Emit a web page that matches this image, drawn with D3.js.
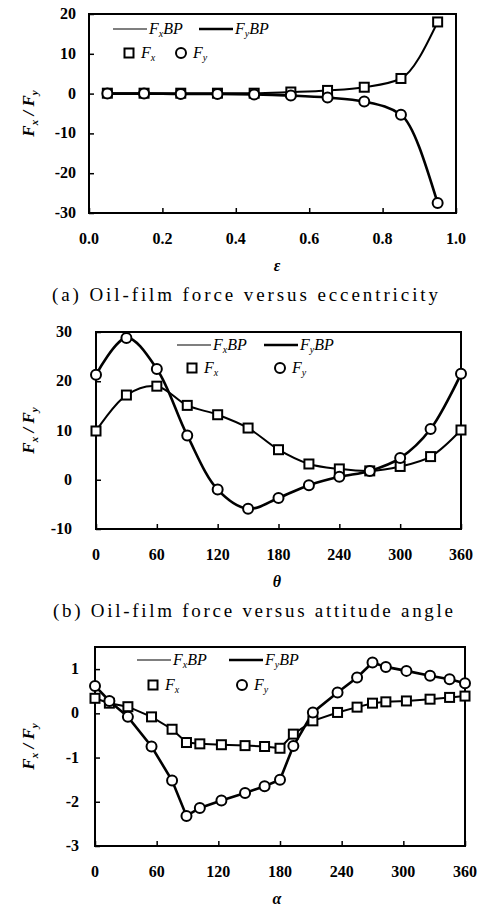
<!DOCTYPE html>
<html>
<head>
<meta charset="utf-8">
<script src="https://cdn.jsdelivr.net/npm/d3@7"></script>
<style>
body { margin: 0; background: #fff; }
svg { display: block; }
</style>
</head>
<body>
<svg id="chart" width="482" height="909" font-family="'Liberation Serif', 'Times New Roman', Times, serif"></svg>
<script>
// (a) eccentricity
var epsVals = [0.05, 0.15, 0.25, 0.35, 0.45, 0.55, 0.65, 0.75, 0.85, 0.95]
var fxEps = [0.1, 0.1, 0.1, 0.1, 0.1, 0.4, 0.8, 1.6, 3.8, 18]
var fyEps = [0, 0, -0.1, -0.1, -0.2, -0.5, -1.0, -2.0, -5.3, -27.5]
var epsTicks = [0.0, 0.2, 0.4, 0.6, 0.8, 1.0]
var epsYTicks = [20, 10, 0, -10, -20, -30]

// (b) attitude angle
var thetaVals = [0, 30, 60, 90, 120, 150, 180, 210, 240, 270, 300, 330, 360]
var fxTheta = [9.9, 17.2, 19.0, 15.1, 13.2, 10.5, 6.1, 3.2, 2.2, 1.8, 2.7, 4.7, 10.1]
var fyTheta = [21.3, 28.8, 22.5, 9.0, -2.0, -5.9, -3.7, -1.1, 0.6, 1.8, 4.4, 10.3, 21.5]
var angleTicks = [0, 60, 120, 180, 240, 300, 360]
var thetaYTicks = [30, 20, 10, 0, -10]

// (c) alpha
var alphaVals = [0, 14, 32, 55, 75, 89, 102, 123, 146, 165, 180, 193, 212, 236, 255, 270, 283, 303, 326, 345, 360]
var fxAlpha = [0.34, 0.23, 0.15, -0.08, -0.36, -0.66, -0.69, -0.71, -0.73, -0.75, -0.79, -0.47, -0.17, 0.02, 0.14, 0.23, 0.26, 0.28, 0.32, 0.36, 0.39]
var fyAlpha = [0.62, 0.28, -0.08, -0.75, -1.52, -2.32, -2.14, -1.97, -1.80, -1.65, -1.50, -0.74, 0.02, 0.47, 0.81, 1.15, 1.05, 0.96, 0.85, 0.77, 0.68]
var alphaYTicks = [1, 0, -1, -2, -3]

var svg = d3.select("#chart")

function panel(cfg) {
    var g = svg.append("g")
    var x = d3.scaleLinear().domain(cfg.xDomain).range([cfg.left, cfg.right])
    var y = d3.scaleLinear().domain(cfg.yDomain).range([cfg.bottom, cfg.top])

    // inward ticks
    g.append("g")
        .attr("transform", "translate(0," + cfg.bottom + ")")
        .call(d3.axisBottom(x).tickValues(cfg.xTicks).tickSize(-5).tickFormat(""))
        .call(function(s) { s.select(".domain").remove() })
    g.append("g")
        .attr("transform", "translate(" + cfg.left + ",0)")
        .call(d3.axisLeft(y).tickValues(cfg.yTicks).tickSize(-5).tickFormat(""))
        .call(function(s) { s.select(".domain").remove() })
    g.selectAll(".tick line").attr("stroke", "#000").attr("stroke-width", 1.5)

    g.append("rect")
        .attr("x", cfg.left).attr("y", cfg.top)
        .attr("width", cfg.right - cfg.left).attr("height", cfg.bottom - cfg.top)
        .attr("fill", "none").attr("stroke", "#000").attr("stroke-width", 2)

    g.selectAll(".xl").data(cfg.xTicks).enter().append("text")
        .attr("x", function(d) { return x(d) })
        .attr("y", cfg.bottom + 31)
        .attr("text-anchor", "middle")
        .attr("font-size", 16)
        .attr("font-weight", "bold")
        .text(cfg.xFmt)
    g.selectAll(".yl").data(cfg.yTicks).enter().append("text")
        .attr("x", cfg.labelRight)
        .attr("y", function(d) { return y(d) + 5 })
        .attr("text-anchor", "end")
        .attr("font-size", 16)
        .attr("font-weight", "bold")
        .text(function(d) { return d })

    var line = d3.line()
        .x(function(d) { return x(d[0]) })
        .y(function(d) { return y(d[1]) })
        .curve(cfg.curve)
    var fx = cfg.xs.map(function(v, i) { return [v, cfg.fx[i]] })
    var fy = cfg.xs.map(function(v, i) { return [v, cfg.fy[i]] })
    g.append("path").datum(fx).attr("d", line)
        .attr("fill", "none").attr("stroke", "#000").attr("stroke-width", 2)
    g.append("path").datum(fy).attr("d", line)
        .attr("fill", "none").attr("stroke", "#000").attr("stroke-width", 2.6)

    g.selectAll(".sq").data(fx).enter().append("rect")
        .attr("x", function(d) { return x(d[0]) - 4.5 })
        .attr("y", function(d) { return y(d[1]) - 4.5 })
        .attr("width", 9).attr("height", 9)
        .attr("fill", "#fff").attr("stroke", "#000").attr("stroke-width", 2)
    g.selectAll(".ci").data(fy).enter().append("circle")
        .attr("cx", function(d) { return x(d[0]) })
        .attr("cy", function(d) { return y(d[1]) })
        .attr("r", 5)
        .attr("fill", "#fff").attr("stroke", "#000").attr("stroke-width", 2)

    // legend
    var L = cfg.legend
    g.append("line").attr("x1", L.x1).attr("x2", L.x1 + 34).attr("y1", L.y1).attr("y2", L.y1)
        .attr("stroke", "#000").attr("stroke-width", 1.2)
    legendText(g, L.x1 + 36, L.y1 + 5, "x", "BP")
    g.append("line").attr("x1", L.x2).attr("x2", L.x2 + 34).attr("y1", L.y1).attr("y2", L.y1)
        .attr("stroke", "#000").attr("stroke-width", 2.4)
    legendText(g, L.x2 + 36, L.y1 + 5, "y", "BP")
    g.append("rect").attr("x", L.sx - 4.5).attr("y", L.y2 - 4.5).attr("width", 9).attr("height", 9)
        .attr("fill", "#fff").attr("stroke", "#000").attr("stroke-width", 2)
    legendText(g, L.sx + 12, L.y2 + 5, "x", "")
    g.append("circle").attr("cx", L.cx).attr("cy", L.y2).attr("r", 5)
        .attr("fill", "#fff").attr("stroke", "#000").attr("stroke-width", 2)
    legendText(g, L.cx + 12, L.y2 + 5, "y", "")

    // axis titles
    var yt = g.append("text")
        .attr("transform", "translate(34," + ((cfg.top + cfg.bottom) / 2) + ") rotate(-90)")
        .attr("text-anchor", "middle")
        .attr("font-size", 17)
        .attr("font-weight", "bold")
        .attr("font-style", "italic")
    yt.append("tspan").text("F")
    yt.append("tspan").attr("font-size", 11).attr("dy", 4).text("x")
    yt.append("tspan").attr("dy", -4).text(" / F")
    yt.append("tspan").attr("font-size", 11).attr("dy", 4).text("y")

    g.append("text")
        .attr("x", 277).attr("y", cfg.bottom + 58)
        .attr("text-anchor", "middle")
        .attr("font-size", 16)
        .attr("font-weight", "bold")
        .attr("font-style", "italic")
        .text(cfg.xTitle)

    if (cfg.caption) {
        g.append("text")
            .attr("x", cfg.capX).attr("y", cfg.bottom + 88)
            .attr("font-size", 19)
            .attr("textLength", cfg.capW)
            .attr("lengthAdjust", "spacing")
            .text(cfg.caption)
    }
}

function legendText(g, x, y, sub, tail) {
    var t = g.append("text").attr("x", x).attr("y", y)
        .attr("font-size", 16).attr("font-style", "italic")
    t.append("tspan").text("F")
    t.append("tspan").attr("font-size", 10).attr("dy", 3).text(sub)
    if (tail) t.append("tspan").attr("dy", -3).text(tail)
}

panel({
    left: 89, right: 456, top: 14, bottom: 213, labelRight: 76,
    xDomain: [0, 1], yDomain: [-30, 20],
    xTicks: epsTicks, yTicks: epsYTicks,
    xFmt: d3.format(".1f"),
    xs: epsVals, fx: fxEps, fy: fyEps,
    curve: d3.curveMonotoneX,
    legend: { x1: 113, x2: 199, y1: 29, y2: 53, sx: 129, cx: 181 },
    xTitle: "\u03b5",
    caption: "(a) Oil-film force versus eccentricity", capX: 52, capW: 386
})

panel({
    left: 96, right: 461, top: 332, bottom: 529, labelRight: 72,
    xDomain: [0, 360], yDomain: [-10, 30],
    xTicks: angleTicks, yTicks: thetaYTicks,
    xFmt: function(d) { return d },
    xs: thetaVals, fx: fxTheta, fy: fyTheta,
    curve: d3.curveCatmullRom,
    legend: { x1: 177, x2: 264, y1: 345, y2: 368, sx: 192, cx: 280 },
    xTitle: "\u03b8",
    caption: "(b) Oil-film force versus attitude angle", capX: 53, capW: 400
})

panel({
    left: 95, right: 465, top: 647, bottom: 846, labelRight: 79,
    xDomain: [0, 360], yDomain: [-3, 1.5],
    xTicks: angleTicks, yTicks: alphaYTicks,
    xFmt: function(d) { return d },
    xs: alphaVals, fx: fxAlpha, fy: fyAlpha,
    curve: d3.curveLinear,
    legend: { x1: 137, x2: 229, y1: 660, y2: 685, sx: 153, cx: 242 },
    xTitle: "\u03b1"
})
</script>
</body>
</html>
